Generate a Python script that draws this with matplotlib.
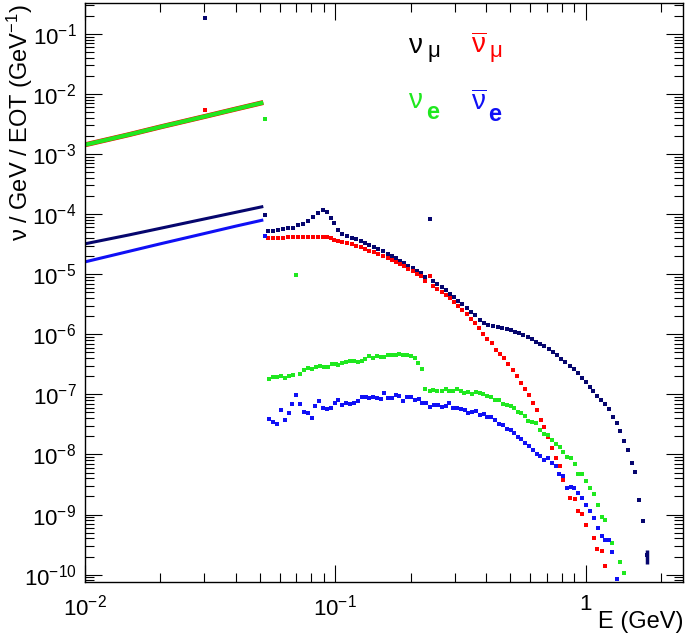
import numpy as np
import matplotlib
matplotlib.use('Agg')
import matplotlib.pyplot as plt
from matplotlib.ticker import LogLocator, NullFormatter, FuncFormatter, FixedLocator

plt.rcParams['font.family'] = ['Liberation Sans', 'DejaVu Sans']
plt.rcParams['mathtext.fontset'] = 'custom'
plt.rcParams['mathtext.rm'] = 'Liberation Sans'
plt.rcParams['mathtext.it'] = 'Liberation Sans'
plt.rcParams['mathtext.bf'] = 'Liberation Sans:bold'

# --- Daten ---
# Niederenergie-Bereich (Myon-Zerfall in Ruhe), dicht besetzte Bins -> als Linie
low_E = [0.010, 0.015, 0.020, 0.030, 0.040, 0.0516]
numu_low = [3.2e-5, 4.5e-5, 5.8e-5, 8.3e-5, 1.07e-4, 1.34e-4]
nue_low = [1.42e-3, 2.1e-3, 2.82e-3, 4.2e-3, 5.6e-3, 7.2e-3]
numubar_low = [1.42e-3, 2.1e-3, 2.82e-3, 4.2e-3, 5.6e-3, 7.2e-3]
nuebar_low = [1.6e-5, 2.4e-5, 3.2e-5, 4.75e-5, 6.3e-5, 8.0e-5]

# nu_mu
numu_E = [0.0302, 0.0526, 0.0540, 0.0565, 0.0592, 0.0620, 0.0649, 0.0679, 0.0711, 0.0745,
          0.0780, 0.0817, 0.0855, 0.0890, 0.0923, 0.0958, 0.0990, 0.1027, 0.1066, 0.1110,
          0.1162, 0.1209, 0.1266, 0.1313, 0.1366, 0.1426, 0.1484, 0.1554, 0.1618, 0.1678,
          0.1746, 0.1812, 0.1886, 0.1956, 0.2036, 0.2113, 0.2199, 0.2281, 0.2383, 0.2457,
          0.2549, 0.2653, 0.2761, 0.2865, 0.2973, 0.3093, 0.3208, 0.3341, 0.3464, 0.3606,
          0.3775, 0.3916, 0.4075, 0.4267, 0.4467, 0.4638, 0.4823, 0.501, 0.521, 0.5413,
          0.5625, 0.5848, 0.6078, 0.6318, 0.6566, 0.6823, 0.7091, 0.7372, 0.766, 0.7964,
          0.8275, 0.86, 0.894, 0.929, 0.969, 1.002, 1.037, 1.072, 1.112, 1.150,
          1.193, 1.238, 1.280, 1.325, 1.369, 1.420, 1.469, 1.525, 1.577, 1.636,
          1.691, 1.755]
numu_F = [0.185, 9.5e-5, 5.27e-5, 5.33e-5, 5.4e-5, 5.55e-5, 5.77e-5, 5.99e-5, 6.47e-5, 6.98e-5,
          7.83e-5, 8.9e-5, 1.04e-4, 1.15e-4, 1.08e-4, 8.57e-5, 7.16e-5, 5.4e-5, 4.7e-5, 4.35e-5,
          4.08e-5, 3.84e-5, 3.56e-5, 3.29e-5, 3.05e-5, 2.82e-5, 2.61e-5, 2.39e-5, 2.21e-5, 2.02e-5,
          1.85e-5, 1.69e-5, 1.55e-5, 1.38e-5, 1.26e-5, 1.14e-5, 1.03e-5, 9.16e-6, 8.15e-5, 7.67e-6,
          6.84e-6, 6.1e-6, 5.36e-6, 4.72e-6, 4.1e-6, 3.61e-6, 3.18e-6, 2.72e-6, 2.36e-6, 2.06e-6,
          1.74e-6, 1.53e-6, 1.42e-6, 1.35e-6, 1.31e-6, 1.27e-6, 1.22e-6, 1.16e-6, 1.10e-6, 1.035e-6,
          9.66e-7, 8.98e-7, 8.28e-7, 7.59e-7, 6.92e-7, 6.27e-7, 5.62e-7, 5.04e-7, 4.48e-7, 3.94e-7,
          3.46e-7, 3.0e-7, 2.61e-7, 2.23e-7, 1.84e-7, 1.58e-7, 1.34e-7, 1.12e-7, 9.35e-8, 7.92e-8,
          6.8e-8, 5.69e-8, 4.24e-8, 3.33e-8, 2.48e-8, 1.69e-8, 1.17e-8, 7.28e-9, 5.15e-9, 1.72e-9,
          7.8e-10, 2.1e-10]

# anti nu_mu
numubar_E = [0.0302, 0.0540, 0.0565, 0.0592, 0.0620, 0.0649, 0.0679, 0.0711, 0.0745, 0.0780,
             0.0817, 0.0855, 0.0890, 0.0923, 0.0958, 0.0990, 0.1027, 0.1066, 0.1110, 0.1162,
             0.1209, 0.1266, 0.1313, 0.1366, 0.1426, 0.1484, 0.1554, 0.1618, 0.1678, 0.1746,
             0.1812, 0.1886, 0.1956, 0.2036, 0.2113, 0.2199, 0.2281, 0.2383, 0.2457, 0.2549,
             0.2653, 0.2761, 0.2865, 0.2973, 0.3093, 0.3208, 0.3341, 0.3464, 0.3606, 0.3752,
             0.3891, 0.4037, 0.4203, 0.4360, 0.4522, 0.4717, 0.4903, 0.5095, 0.5296, 0.5499,
             0.5706, 0.5919, 0.6124, 0.6353, 0.6591, 0.6815, 0.7032, 0.7295, 0.7586, 0.787,
             0.8113, 0.8414, 0.8679, 0.9032, 0.9311, 0.9658, 0.999, 1.0753, 1.112, 1.154,
             1.19]
numubar_F = [5.4e-3, 4.03e-5, 4.03e-5, 4.08e-5, 4.08e-5, 4.14e-5, 4.14e-5, 4.19e-5, 4.19e-5, 4.19e-5,
             4.19e-5, 4.19e-5, 4.19e-5, 4.14e-5, 3.93e-5, 3.78e-5, 3.6e-5, 3.46e-5, 3.33e-5, 3.16e-5,
             3.0e-5, 2.82e-5, 2.65e-5, 2.48e-5, 2.3e-5, 2.16e-5, 2.0e-5, 1.85e-5, 1.71e-5, 1.59e-5,
             1.47e-5, 1.36e-5, 1.24e-5, 1.12e-5, 1.02e-5, 9.2e-6, 7.86e-6, 9.2e-6, 6.41e-6, 5.71e-6,
             5.15e-6, 4.54e-6, 4.0e-6, 3.47e-6, 2.98e-6, 2.56e-6, 2.19e-6, 1.83e-6, 1.54e-6, 1.27e-6,
             1.02e-6, 8.4e-7, 7.13e-7, 5.52e-7, 4.74e-7, 4.0e-7, 3.23e-7, 2.57e-7, 2.04e-7, 1.54e-7,
             1.24e-7, 9.6e-8, 7.17e-8, 5.47e-8, 3.78e-8, 2.82e-8, 1.95e-8, 1.28e-8, 8.7e-9, 6.5e-9,
             3.8e-9, 2.75e-9, 1.88e-9, 1.85e-9, 1.13e-9, 1.03e-9, 6.6e-10, 4.06e-10, 2.67e-10, 2.43e-10,
             1.37e-10]

# nu_e
nue_E = [0.0526, 0.0697, 0.0545, 0.0565, 0.0587, 0.0608, 0.0630, 0.0653, 0.0676, 0.0723,
         0.0749, 0.0780, 0.0809, 0.0837, 0.0868, 0.0901, 0.0934, 0.0966, 0.1003, 0.1027,
         0.1066, 0.1106, 0.1144, 0.1187, 0.1235, 0.1280, 0.1316, 0.1361, 0.1413, 0.1462,
         0.1516, 0.1567, 0.1621, 0.1682, 0.1740, 0.1799, 0.1866, 0.1936, 0.2008, 0.2077,
         0.2142, 0.2216, 0.2285, 0.2385, 0.2459, 0.2551, 0.2655, 0.2754, 0.2848, 0.2954,
         0.3046, 0.3161, 0.3260, 0.3392, 0.3498, 0.3628, 0.3776, 0.3892, 0.4013, 0.4164,
         0.4331, 0.4494, 0.4660, 0.4823, 0.5017, 0.5171, 0.5335, 0.5514, 0.5706, 0.5883,
         0.6102, 0.6313, 0.6550, 0.6796, 0.7030, 0.7293, 0.7586, 0.7871, 0.8114, 0.8414,
         0.8682, 0.9030, 0.9310, 0.9658, 0.9991, 1.0366, 1.0753, 1.1125, 1.1542, 1.19,
         1.2346, 1.2766, 1.3653, 1.4165]
nue_F = [3.85e-3, 9.8e-6, 1.80e-7, 1.94e-7, 1.96e-7, 2.01e-7, 1.84e-7, 2.06e-7, 2.09e-7, 2.17e-7,
         2.53e-7, 2.70e-7, 2.67e-7, 2.81e-7, 2.92e-7, 2.84e-7, 2.88e-7, 3.23e-7, 3.15e-7, 3.03e-7,
         3.31e-7, 3.48e-7, 3.53e-7, 3.53e-7, 3.44e-7, 3.62e-7, 3.91e-7, 4.34e-7, 3.97e-7, 4.34e-7,
         4.17e-7, 4.23e-7, 4.45e-7, 4.5e-7, 4.45e-7, 4.62e-7, 4.5e-7, 4.45e-7, 4.34e-7, 4.01e-7,
         3.36e-7, 2.6e-7, 1.22e-7, 1.12e-7, 1.18e-7, 1.16e-7, 1.15e-7, 1.21e-7, 1.16e-7, 1.15e-7,
         1.21e-7, 1.12e-7, 1.05e-7, 1.10e-7, 1.01e-7, 1.10e-7, 1.05e-7, 1.01e-7, 9.5e-8, 8.9e-8,
         8.13e-8, 7.92e-8, 6.89e-8, 6.55e-8, 6.38e-8, 5.98e-8, 5.07e-8, 4.81e-8, 4.29e-8, 3.59e-8,
         3.41e-8, 3.33e-8, 2.51e-8, 2.18e-8, 2.13e-8, 1.76e-8, 1.51e-8, 1.31e-8, 1.12e-8, 9.0e-9,
         8.7e-9, 7.0e-9, 4.72e-9, 4.72e-9, 3.65e-9, 2.72e-9, 2.16e-9, 1.46e-9, 9.1e-10, 8.2e-10,
         3.81e-10, 3.36e-10, 1.6e-10, 1.06e-10]

# anti nu_e
nuebar_E = [0.0526, 0.0545, 0.0562, 0.0583, 0.0607, 0.0630, 0.0651, 0.0673, 0.0698, 0.0723,
            0.0749, 0.0777, 0.0805, 0.0831, 0.0863, 0.0892, 0.0926, 0.0960, 0.0994, 0.1027,
            0.1066, 0.1106, 0.1144, 0.1187, 0.1227, 0.1273, 0.1321, 0.1365, 0.1413, 0.1466,
            0.1516, 0.1567, 0.1621, 0.1682, 0.1740, 0.1799, 0.1866, 0.1936, 0.2003, 0.2077,
            0.2149, 0.2222, 0.2304, 0.2385, 0.2474, 0.2567, 0.2655, 0.2754, 0.2848, 0.2954,
            0.3055, 0.3161, 0.3280, 0.3392, 0.3516, 0.3638, 0.3776, 0.3905, 0.4036, 0.4187,
            0.4331, 0.4482, 0.4676, 0.4850, 0.5017, 0.5171, 0.5351, 0.5514, 0.5706, 0.5919,
            0.6124, 0.6353, 0.6550, 0.6796, 0.7030, 0.7293, 0.7586, 0.7820, 0.8114, 0.8414,
            0.8682, 0.8974, 0.9310, 0.9658, 0.9991, 1.0366, 1.0753, 1.1125, 1.1542, 1.19,
            1.2346, 1.2766, 1.3246]
nuebar_F = [4.36e-5, 3.88e-8, 3.41e-8, 3.24e-8, 5.55e-8, 3.78e-8, 4.89e-8, 6.89e-8, 9.84e-8, 6.89e-8,
            5.07e-8, 4.94e-8, 4.03e-8, 6.38e-8, 7.83e-8, 5.83e-8, 5.61e-8, 6.05e-8, 7.33e-8, 7.92e-8,
            6.55e-8, 7.24e-8, 6.89e-8, 7.06e-8, 7.83e-8, 8.89e-8, 8.89e-8, 8.55e-8, 8.89e-8, 8.77e-8,
            8.45e-8, 1.06e-7, 8.55e-8, 8.77e-8, 9.6e-8, 9.35e-8, 7.83e-8, 8.89e-8, 9.12e-8, 8.22e-8,
            8.45e-8, 7.15e-8, 7.15e-8, 6.22e-8, 6.55e-8, 6.55e-8, 6.22e-8, 6.46e-8, 7.15e-8, 5.98e-8,
            5.83e-8, 5.61e-8, 5.4e-8, 4.89e-8, 5.13e-8, 5.26e-8, 4.46e-8, 4.7e-8, 4.24e-8, 4.13e-8,
            3.78e-8, 3.21e-8, 3.12e-8, 2.64e-8, 2.58e-8, 2.24e-8, 1.95e-8, 1.8e-8, 1.55e-8, 1.36e-8,
            1.2e-8, 1.03e-8, 9.27e-9, 8.17e-9, 8.59e-9, 7.18e-9, 6.32e-9, 4.77e-9, 4.31e-9, 2.76e-9,
            2.83e-9, 2.76e-9, 2.28e-9, 1.88e-9, 1.46e-9, 1.13e-9, 8.75e-10, 5.96e-10, 4.33e-10, 3.81e-10,
            3.81e-10, 2.34e-10, 8.45e-11]

x_ticks = [0.01, 0.1, 1]
y_ticks = [1e-10, 1e-9, 1e-8, 1e-7, 1e-6, 1e-5, 1e-4, 1e-3, 1e-2, 1e-1]

c_numu = '#06066e'
c_numubar = '#ff0000'
c_nue = '#1fe81f'
c_nuebar = '#1010f5'

fig = plt.figure(figsize=(6.85, 6.38), dpi=100)
ax = fig.add_axes([84.7 / 685, 1 - 582 / 638, (683 - 84.7) / 685, (582 - 2.7) / 638])

ms = 3.0
# Niederenergie-Linien
ax.plot(low_E, numu_low, color=c_numu, lw=2.2, solid_capstyle='butt')
ax.plot(low_E, numubar_low, color=c_numubar, lw=3.6, solid_capstyle='butt')
ax.plot(low_E, nue_low, color=c_nue, lw=3.0, solid_capstyle='butt')
ax.plot(low_E, nuebar_low, color=c_nuebar, lw=2.2, solid_capstyle='butt')

# Histogramm-Punkte
ax.plot(numu_E, numu_F, 's', color=c_numu, ms=ms, mew=0)
ax.plot(numubar_E, numubar_F, 's', color=c_numubar, ms=ms, mew=0)
ax.plot(nue_E, nue_F, 's', color=c_nue, ms=ms, mew=0)
ax.plot(nuebar_E, nuebar_F, 's', color=c_nuebar, ms=ms, mew=0)
# letzter nu_mu Punkt mit grossem Fehler
ax.errorbar(numu_E[-1:], numu_F[-1:], yerr=[[0.6e-10], [0.5e-10]], fmt='none',
            ecolor=c_numu, elinewidth=2.5, capsize=0)

ax.set_xscale('log')
ax.set_yscale('log')
ax.set_xlim(0.01, 2.44)
ax.set_ylim(7.55e-11, 0.33)


def xfmt(v, pos):
    if abs(v - 1) < 1e-9:
        return '1'
    return r'$10^{%d}$' % round(np.log10(v))


def yfmt(v, pos):
    return r'$10^{%d}$' % round(np.log10(v))


ax.xaxis.set_major_locator(FixedLocator(x_ticks))
ax.yaxis.set_major_locator(FixedLocator(y_ticks))
for axis in (ax.xaxis, ax.yaxis):
    axis.set_minor_locator(LogLocator(base=10, subs=np.arange(2, 10), numticks=100))
    axis.set_minor_formatter(NullFormatter())
ax.xaxis.set_major_formatter(FuncFormatter(xfmt))
ax.yaxis.set_major_formatter(FuncFormatter(yfmt))

ax.tick_params(which='both', direction='in', top=True, right=True, width=0.8, labelsize=16)
ax.tick_params(which='major', length=12.5)
ax.tick_params(which='minor', length=6.5)
ax.tick_params(axis='x', pad=9)
ax.tick_params(axis='y', pad=6)
for s in ax.spines.values():
    s.set_linewidth(1.0)

# Achsentitel
fig.text(20 / 685, 1 - 4 / 638, r'$\nu$ / GeV / EOT (GeV$^{-1}$)', rotation=90,
         ha='center', va='top', fontsize=17)
fig.text(683 / 685, 1 - 622 / 638, 'E (GeV)', ha='right', va='center', fontsize=17)

# Legende als Text
fig.text(408 / 685, 1 - 53 / 638, r'$\nu$', fontsize=20, color='k', va='baseline')
fig.text(427 / 685, 1 - 57 / 638, r'$\mu$', fontsize=16, color='k', va='baseline')
fig.text(471 / 685, 1 - 53 / 638, r'$\overline{\nu}$', fontsize=20, color=c_numubar, va='baseline')
fig.text(489 / 685, 1 - 57 / 638, r'$\mu$', fontsize=16, color=c_numubar, va='baseline')
fig.text(408 / 685, 1 - 108 / 638, r'$\nu$', fontsize=20, color=c_nue, va='baseline')
fig.text(426 / 685, 1 - 119 / 638, 'e', fontsize=17, fontweight='bold', color=c_nue, va='baseline')
fig.text(471 / 685, 1 - 110 / 638, r'$\overline{\nu}$', fontsize=20, color=c_nuebar, va='baseline')
fig.text(488 / 685, 1 - 121 / 638, 'e', fontsize=17, fontweight='bold', color=c_nuebar, va='baseline')

fig.savefig('out.png', dpi=100)
